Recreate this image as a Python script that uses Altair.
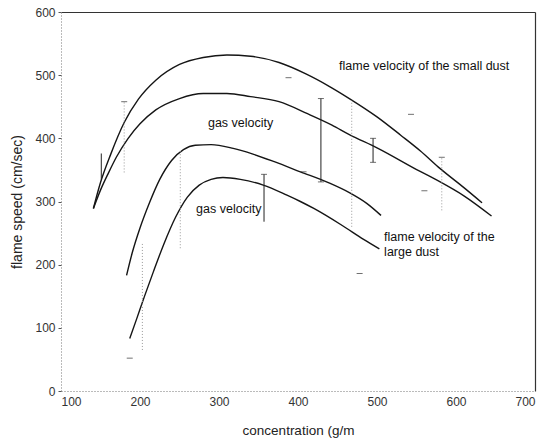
import altair as alt
import pandas as pd

# ---- axis ticks ----
x_ticks = [100, 200, 300, 400, 500, 600, 700]
y_ticks = [0, 100, 200, 300, 400, 500, 600]

# ---- curves ----
small_flame_x = [141, 150, 163, 180, 198, 220, 250, 280, 310, 340, 376, 410, 440, 465, 500, 530, 555, 580, 610, 633]
small_flame_y = [289, 330, 375, 425, 462, 492, 517, 528, 532, 530, 520, 502, 482, 463, 434, 405, 380, 352, 322, 298]

small_gas_x = [141, 150, 160, 170, 185, 200, 220, 250, 280, 310, 340, 376, 412, 443, 465, 500, 554, 580, 610, 645]
small_gas_y = [289, 318, 345, 370, 400, 423, 445, 463, 471, 471, 466, 458, 439, 421, 406, 385, 348, 331, 309, 277]

large_flame_x = [183, 190, 200, 212, 225, 240, 255, 270, 290, 318, 343, 370, 403, 440, 465, 487, 505]
large_flame_y = [183, 218, 258, 298, 335, 365, 382, 389, 390, 384, 375, 363, 347, 329, 314, 297, 278]

large_gas_x = [187, 196, 206, 217, 230, 245, 260, 275, 290, 305, 327, 356, 386, 403, 420, 456, 483, 503]
large_gas_y = [83, 115, 151, 189, 232, 275, 307, 326, 335, 338, 335, 326, 310, 300, 289, 262, 240, 225]

# ---- error bars ----
solid_err_x = [151, 357, 429, 495]
solid_err_lo = [335, 268, 331, 362]
solid_err_hi = [376, 343, 463, 400]

dotted_err_x = [180, 203, 251, 468, 582]
dotted_err_lo = [346, 65, 226, 260, 286]
dotted_err_hi = [458, 234, 380, 460, 370]

cap_x = [180, 357, 429, 429, 495, 495, 582, 187, 388, 543, 560, 478, 407]
cap_y = [458, 343, 463, 331, 400, 362, 370, 52, 496, 438, 317, 186, 347]

# ---- annotations ----
label_text = ["flame velocity of the small dust", "gas velocity", "gas velocity",
              "flame velocity of the", "large dust"]
label_x = [452, 286, 271, 509, 509]
label_y = [515, 425, 288, 244, 220]

# ---- tables ----
rows = []
for name, xs_, ys_ in [("small_flame", small_flame_x, small_flame_y),
                       ("small_gas", small_gas_x, small_gas_y),
                       ("large_flame", large_flame_x, large_flame_y),
                       ("large_gas", large_gas_x, large_gas_y)]:
    for i, (xv, yv) in enumerate(zip(xs_, ys_)):
        rows.append({"series": name, "i": i, "x": xv, "y": yv})
curves = pd.DataFrame(rows)

solid_df = pd.DataFrame({"x": solid_err_x, "lo": solid_err_lo, "hi": solid_err_hi})
dotted_df = pd.DataFrame({"x": dotted_err_x, "lo": dotted_err_lo, "hi": dotted_err_hi})
cap_df = pd.DataFrame({"x": cap_x, "y": cap_y})
label_df = pd.DataFrame({"t": label_text, "x": label_x, "y": label_y})

xs = alt.Scale(domain=[100, 700], nice=False, zero=False)
ys = alt.Scale(domain=[0, 600], nice=False, zero=False)

FONT = "Liberation Sans"

x_bottom = alt.Axis(orient="bottom", values=x_ticks, format="d", grid=False, ticks=False,
                    domainDash=[1, 2], domainColor="#777", domainWidth=1,
                    labelFont=FONT, labelFontSize=12, labelColor="#333", labelPadding=5,
                    title="concentration (g/m", titleFont=FONT, titleFontSize=13.5,
                    titleFontWeight="normal", titleColor="#222", titlePadding=16)
y_left = alt.Axis(orient="left", values=y_ticks, format="d", grid=False, ticks=True,
                  tickSize=3, tickColor="#555",
                  domainDash=[1, 2], domainColor="#777", domainWidth=1,
                  labelFont=FONT, labelFontSize=12, labelColor="#333", labelPadding=3,
                  title="flame speed (cm/sec)", titleFont=FONT, titleFontSize=14,
                  titleFontWeight="normal", titleColor="#222", titlePadding=10)
x_top = alt.Axis(orient="top", labels=False, ticks=False, title=None, grid=False,
                 domainColor="#333", domainWidth=1.2)
y_right = alt.Axis(orient="right", labels=False, ticks=False, title=None, grid=False,
                   domainColor="#333", domainWidth=1.2)

frame = alt.Chart(curves).mark_line(opacity=0).encode(
    x=alt.X("x:Q", scale=xs, axis=x_top),
    y=alt.Y("y:Q", scale=ys, axis=y_right),
    detail="series:N",
)

lines = alt.Chart(curves).mark_line(color="#151515", strokeWidth=1.4, interpolate="monotone").encode(
    x=alt.X("x:Q", scale=xs, axis=x_bottom),
    y=alt.Y("y:Q", scale=ys, axis=y_left),
    detail="series:N",
    order="i:Q",
)

err_solid = alt.Chart(solid_df).mark_rule(color="#222", strokeWidth=1).encode(
    x=alt.X("x:Q", scale=xs, axis=None),
    y=alt.Y("lo:Q", scale=ys, axis=None),
    y2="hi:Q",
)

err_dotted = alt.Chart(dotted_df).mark_rule(color="#999", strokeWidth=1, strokeDash=[1, 2]).encode(
    x=alt.X("x:Q", scale=xs, axis=None),
    y=alt.Y("lo:Q", scale=ys, axis=None),
    y2="hi:Q",
)

caps = alt.Chart(cap_df).mark_tick(orient="horizontal", color="#333", size=6, thickness=1).encode(
    x=alt.X("x:Q", scale=xs, axis=None),
    y=alt.Y("y:Q", scale=ys, axis=None),
)

texts = alt.Chart(label_df).mark_text(align="left", baseline="middle", font=FONT,
                                      fontSize=12.5, color="#111").encode(
    x=alt.X("x:Q", scale=xs, axis=None),
    y=alt.Y("y:Q", scale=ys, axis=None),
    text="t:N",
)

chart = alt.layer(frame, lines, err_dotted, err_solid, caps, texts).resolve_axis(
    x="independent", y="independent"
).properties(
    width=474, height=379,
    padding={"left": 61, "top": 12, "right": 13, "bottom": 57},
    autosize=alt.AutoSizeParams(type="none"),
    background="white",
).configure_view(stroke=None)

chart.save("out.html", embed_options={"renderer": "svg", "actions": False})
